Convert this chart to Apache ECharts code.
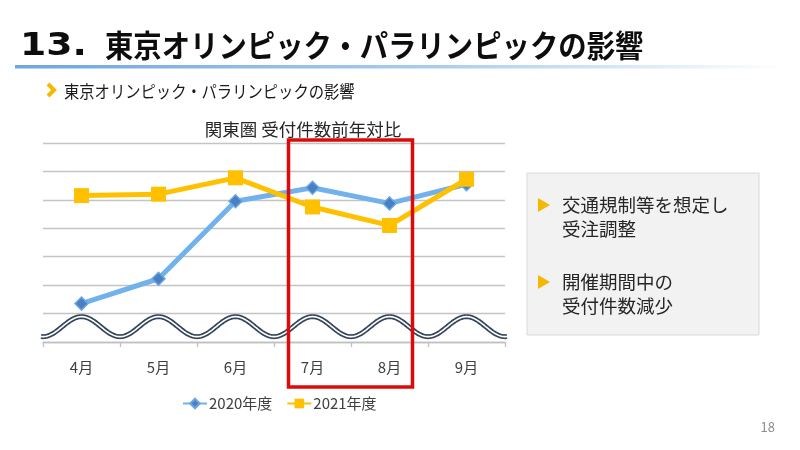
<!DOCTYPE html>
<html>
<head>
<meta charset="utf-8">
<script src="https://cdn.jsdelivr.net/npm/echarts@6/dist/echarts.min.js"></script>
<style>html,body{margin:0;padding:0;background:#fff;}#c{width:800px;height:450px;}</style>
</head>
<body>
<div id="c"></div>
<script>
var categories = ['4月', '5月', '6月', '7月', '8月', '9月'];
var fy2020 = [27, 44.5, 99, 108.5, 97.5, 111];
var fy2021 = [103, 104, 115.5, 95, 82, 114.5];
var seriesNames = ['2020年度', '2021年度'];
var chartTitle = '関東圏 受付件数前年対比';
var pageTitleNo = '13.';
var pageTitle = '東京オリンピック・パラリンピックの影響';
var subTitle = '東京オリンピック・パラリンピックの影響';
var notes = [['交通規制等を想定し', '受注調整'], ['開催期間中の', '受付件数減少']];
var pageNo = '18';

var FONT = '"Noto Sans CJK JP", "Noto Sans", sans-serif';
var chart = echarts.init(document.getElementById('c'), null, {renderer: 'canvas'});

var option = {
  backgroundColor: '#ffffff',
  animation: false,
  textStyle: {fontFamily: FONT},
  title: {
    text: chartTitle,
    left: 298, top: 116,
    textAlign: 'center',
    textStyle: {fontSize: 17.5, fontWeight: 'normal', color: '#262626', fontFamily: FONT}
  },
  legend: {
    data: seriesNames,
    left: 177, top: 391,
    itemWidth: 24, itemHeight: 12, itemGap: 14,
    textStyle: {fontSize: 15, color: '#404040', fontFamily: FONT, padding: [0, 0, 0, -3]}
  },
  grid: {left: 43, right: 295, top: 143, bottom: 108, containLabel: false},
  xAxis: {
    type: 'category',
    data: categories,
    boundaryGap: true,
    axisLine: {show: true, lineStyle: {color: '#c0c0c0', width: 1.3}},
    axisTick: {show: true, length: 5, lineStyle: {color: '#c0c0c0', width: 1.3}},
    axisLabel: {margin: 18, fontSize: 15, color: '#404040', fontFamily: FONT},
    splitLine: {show: false}
  },
  yAxis: {
    type: 'value',
    min: 0, max: 140, interval: 20,
    axisLine: {show: false},
    axisTick: {show: false},
    axisLabel: {show: false},
    splitLine: {show: true, lineStyle: {color: '#c4c4c4', width: 1.3}}
  },
  series: [
    {
      name: seriesNames[0],
      type: 'line',
      data: fy2020,
      symbol: 'diamond',
      symbolSize: 13,
      lineStyle: {color: '#72b2ec', width: 5},
      itemStyle: {color: '#4a7fc4', borderColor: '#6aa6e2', borderWidth: 1.5},
      z: 3
    },
    {
      name: seriesNames[1],
      type: 'line',
      data: fy2021,
      symbol: 'rect',
      symbolSize: 15,
      lineStyle: {color: '#ffc000', width: 5},
      itemStyle: {color: '#ffc000'},
      z: 4
    }
  ]
};
chart.setOption(option);

function buildGraphics() {
  var g = [];
  // page heading
  g.push({type: 'text', x: 20, y: 47, z: 10,
    style: {text: pageTitleNo, font: 'bold 32px "DejaVu Sans", sans-serif', fill: '#0d0d0d', textVerticalAlign: 'middle'},
    scaleX: 1.18, originX: 0});
  g.push({type: 'text', x: 105, y: 45, z: 10,
    style: {text: pageTitle, font: 'bold 31px ' + FONT, fill: '#0d0d0d', textVerticalAlign: 'middle'},
    scaleX: 0.915, originX: 0});
  // gradient rule
  g.push({type: 'rect', shape: {x: 15, y: 65, width: 770, height: 3.5}, z: 10,
    style: {fill: new echarts.graphic.LinearGradient(0, 0, 1, 0, [
      {offset: 0, color: '#6fa6dc'}, {offset: 0.55, color: '#a9cdef'}, {offset: 1, color: 'rgba(255,255,255,1)'}
    ])}});
  // subheading chevron + text
  g.push({type: 'polyline', shape: {points: [[48, 84], [54, 90], [48, 96]]}, z: 10,
    style: {stroke: '#f5b800', lineWidth: 4, fill: null, lineJoin: 'miter'}});
  g.push({type: 'text', x: 64, y: 91, z: 10,
    style: {text: subTitle, font: '17.5px ' + FONT, fill: '#1a1a1a', textVerticalAlign: 'middle'},
    scaleX: 0.875, originX: 0});
  // notes box
  g.push({type: 'rect', shape: {x: 527, y: 173, width: 232, height: 162}, z: 10,
    style: {fill: '#f2f2f2', stroke: '#d9d9d9', lineWidth: 1}});
  var ys = [[205, 229], [282, 306]];
  for (var i = 0; i < notes.length; i++) {
    var y0 = ys[i][0];
    g.push({type: 'polygon', shape: {points: [[538, y0 - 7], [550, y0], [538, y0 + 7]]}, z: 11,
      style: {fill: '#f5b800'}});
    for (var j = 0; j < notes[i].length; j++) {
      g.push({type: 'text', x: 562, y: ys[i][j], z: 11,
        style: {text: notes[i][j], font: '18.5px ' + FONT, fill: '#262626', textVerticalAlign: 'middle'}});
    }
  }
  // page number
  g.push({type: 'text', x: 775, y: 427, z: 10,
    style: {text: pageNo, font: '13px ' + FONT, fill: '#8c8c8c', textAlign: 'right', textVerticalAlign: 'middle'}});

  // axis-break wave across the grid
  var p0 = chart.convertToPixel({xAxisIndex: 0}, categories[0]);
  var p1 = chart.convertToPixel({xAxisIndex: 0}, categories[1]);
  var step = p1 - p0;
  var yc = chart.convertToPixel({yAxisIndex: 0}, 10.8);
  var xStart = p0 - step / 2 - 2, xEnd = p0 + step * (categories.length - 0.5) + 2;
  var pts = [];
  for (var x = xStart; x <= xEnd; x += 1) {
    pts.push([x, yc - 10 * Math.cos(2 * Math.PI * (x - p0) / step)]);
  }
  g.push({type: 'polyline', shape: {points: pts}, z: 6,
    style: {stroke: '#34445a', lineWidth: 5, fill: null}});
  g.push({type: 'polyline', shape: {points: pts}, z: 7,
    style: {stroke: '#ffffff', lineWidth: 1.6, fill: null}});

  // highlight box around Jul-Aug
  var xa = chart.convertToPixel({xAxisIndex: 0}, categories[3]);
  var xb = chart.convertToPixel({xAxisIndex: 0}, categories[4]);
  var yTop = chart.convertToPixel({yAxisIndex: 0}, 140);
  var yBot = chart.convertToPixel({yAxisIndex: 0}, 0);
  g.push({type: 'rect', shape: {x: xa - 24, y: yTop - 3, width: (xb + 23) - (xa - 24), height: (yBot + 45) - (yTop - 3)}, z: 20,
    style: {fill: null, stroke: '#dc0a0a', lineWidth: 3.5}});
  chart.setOption({graphic: {elements: g}});
}
buildGraphics();
</script>
</body>
</html>
